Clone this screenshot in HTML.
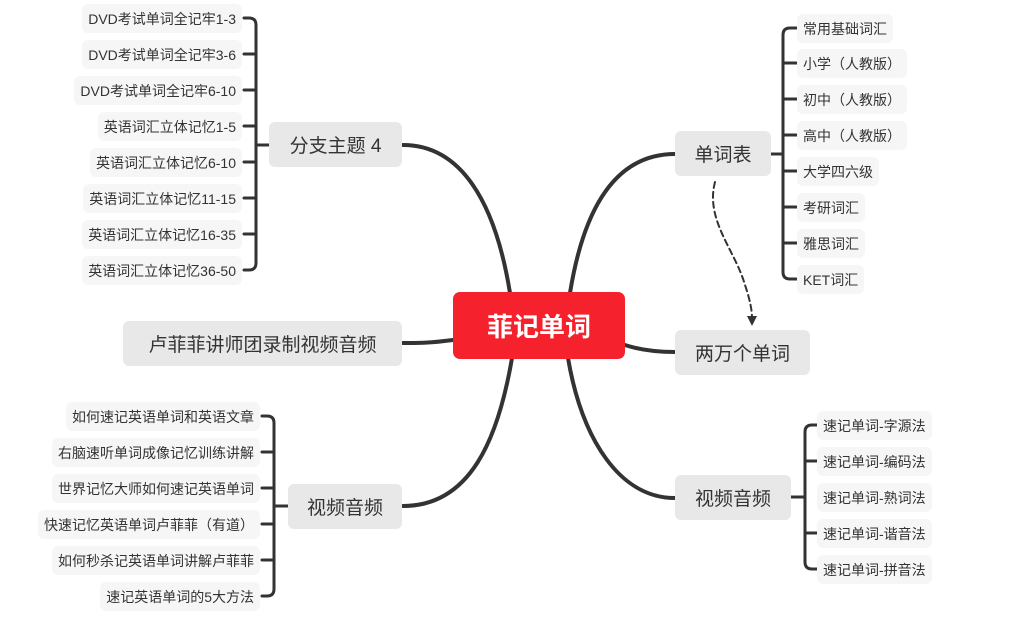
<!DOCTYPE html>
<html><head><meta charset="utf-8"><style>
body{margin:0;width:1010px;height:635px;background:#fff;position:relative;overflow:hidden;font-family:"Liberation Sans","Noto Sans CJK SC",sans-serif;}
.n{position:absolute;box-sizing:border-box;border-radius:6px;white-space:nowrap;display:flex;align-items:center;justify-content:center;color:#333;}
.m{background:#e8e8e8;font-size:19px;height:45px;}
.s{background:#f6f6f6;font-size:14px;height:29px;padding:0 6px;}
.sl{justify-content:flex-end;}
.sr{justify-content:flex-start;}
.c{background:#f5222d;color:#fff;font-weight:bold;font-size:26px;left:453px;top:292px;width:172px;height:67px;border-radius:7px;}
svg{position:absolute;left:0;top:0;}
</style></head><body>
<svg width="1010" height="635" fill="none" stroke="#333" stroke-width="4" stroke-linecap="round">
<path d="M510 293 C495 200 460 145 403 145"/>
<path d="M453 340 C430 343 420 343 403 343"/>
<path d="M512 358 C498 440 470 506 403 506"/>
<path d="M570 293 C585 200 620 154 675 154"/>
<path d="M625 345 C640 350 655 352 675 352"/>
<path d="M568 358 C582 440 620 498 675 498"/>
<g stroke-width="3">
<path d="M771 154 H783"/><path d="M797 28 H790 Q783 28 783 35 V272 Q783 279 790 279 H797"/>
<path d="M797 63 H783 M797 99 H783 M797 135 H783 M797 171 H783 M797 207 H783 M797 243 H783"/>
<path d="M791 497 H805"/><path d="M817 425 H812 Q805 425 805 432 V562 Q805 569 812 569 H817"/>
<path d="M817 461 H805 M817 533 H805"/>
<path d="M269 145 H256"/><path d="M244 18 H249 Q256 18 256 25 V263 Q256 270 249 270 H244"/>
<path d="M244 54 H256 M244 90 H256 M244 126 H256 M244 162 H256 M244 198 H256 M244 234 H256"/>
<path d="M288 506 H274"/><path d="M262 416 H267 Q274 416 274 423 V589 Q274 596 267 596 H262"/>
<path d="M262 452 H274 M262 488 H274 M262 524 H274 M262 560 H274"/>
</g>
<path d="M715 182 C705 220 735 250 745 285 C750 300 752 310 752 318" stroke-width="2" stroke-dasharray="6 4"/>
<polygon points="747,316 757,316 752,326" fill="#333" stroke="none"/>
</svg>
<div class="n c">菲记单词</div>
<div class="n m" style="left:675px;top:131px;width:96px">单词表</div>
<div class="n m" style="left:675px;top:330px;width:135px">两万个单词</div>
<div class="n m" style="left:675px;top:475px;width:116px">视频音频</div>
<div class="n m" style="left:269px;top:122px;width:133px">分支主题 4</div>
<div class="n m" style="left:123px;top:321px;width:279px">卢菲菲讲师团录制视频音频</div>
<div class="n m" style="left:288px;top:484px;width:114px">视频音频</div>

<div class="n s sr" style="left:797px;top:14px">常用基础词汇</div>
<div class="n s sr" style="left:797px;top:49px">小学（人教版）</div>
<div class="n s sr" style="left:797px;top:85px">初中（人教版）</div>
<div class="n s sr" style="left:797px;top:121px">高中（人教版）</div>
<div class="n s sr" style="left:797px;top:157px">大学四六级</div>
<div class="n s sr" style="left:797px;top:193px">考研词汇</div>
<div class="n s sr" style="left:797px;top:229px">雅思词汇</div>
<div class="n s sr" style="left:797px;top:265px">KET词汇</div>

<div class="n s sr" style="left:817px;top:411px">速记单词-字源法</div>
<div class="n s sr" style="left:817px;top:447px">速记单词-编码法</div>
<div class="n s sr" style="left:817px;top:483px">速记单词-熟词法</div>
<div class="n s sr" style="left:817px;top:519px">速记单词-谐音法</div>
<div class="n s sr" style="left:817px;top:555px">速记单词-拼音法</div>

<div class="n s sl" style="right:768px;top:4px">DVD考试单词全记牢1-3</div>
<div class="n s sl" style="right:768px;top:40px">DVD考试单词全记牢3-6</div>
<div class="n s sl" style="right:768px;top:76px">DVD考试单词全记牢6-10</div>
<div class="n s sl" style="right:768px;top:112px">英语词汇立体记忆1-5</div>
<div class="n s sl" style="right:768px;top:148px">英语词汇立体记忆6-10</div>
<div class="n s sl" style="right:768px;top:184px">英语词汇立体记忆11-15</div>
<div class="n s sl" style="right:768px;top:220px">英语词汇立体记忆16-35</div>
<div class="n s sl" style="right:768px;top:256px">英语词汇立体记忆36-50</div>

<div class="n s sl" style="right:750px;top:402px">如何速记英语单词和英语文章</div>
<div class="n s sl" style="right:750px;top:438px">右脑速听单词成像记忆训练讲解</div>
<div class="n s sl" style="right:750px;top:474px">世界记忆大师如何速记英语单词</div>
<div class="n s sl" style="right:750px;top:510px">快速记忆英语单词卢菲菲（有道）</div>
<div class="n s sl" style="right:750px;top:546px">如何秒杀记英语单词讲解卢菲菲</div>
<div class="n s sl" style="right:750px;top:582px">速记英语单词的5大方法</div>
</body></html>
